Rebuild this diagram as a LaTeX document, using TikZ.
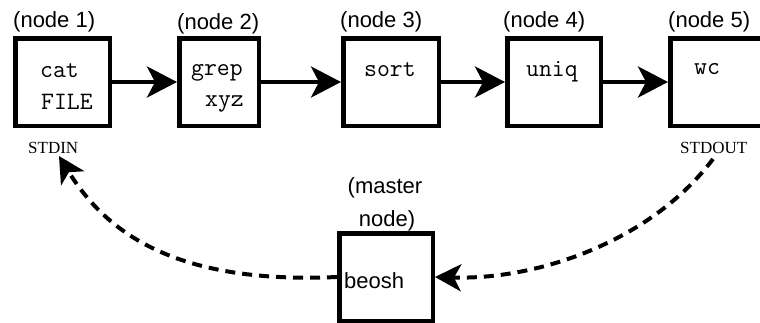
\documentclass[tikz,border=0pt]{standalone}
\usepackage{fontspec}
\usetikzlibrary{arrows.meta}
\newfontfamily\hvfont{Liberation Sans}
\newfontfamily\tmsfont{Liberation Serif}
\begin{document}
\begin{tikzpicture}[x=1pt,y=-1pt,
  box/.style={draw, line width=4.5pt, rectangle, inner sep=0pt,
    minimum height=87.5pt},
  tag/.style={anchor=base west, inner sep=0pt,
    font=\hvfont\fontsize{22}{26}\selectfont},
  cmd/.style={anchor=base west, inner sep=0pt,
    font=\ttfamily\fontsize{25}{28}\selectfont},
  port/.style={anchor=base west, inner sep=0pt,
    font=\tmsfont\fontsize{17}{20}\selectfont},
  pipe/.style={line width=4pt,
    -{Stealth[length=30pt,width=31pt,inset=8pt]}},
  back/.style={line width=4pt, dash pattern=on 10pt off 7pt,
    -{Stealth[length=26pt,width=27pt,inset=7pt]}}
]
\useasboundingbox (0,0) rectangle (760,322);

% pipeline stages
\node[box, minimum width=94.5pt] (b1) at (62.5,82) {};
\node[box, minimum width=79.5pt] (b2) at (219,82) {};
\node[box, minimum width=95.5pt] (b3) at (391,82) {};
\node[box, minimum width=93.5pt] (b4) at (554,82) {};
\node[box, minimum width=93.5pt] (b5) at (717,82) {};
\node[box, minimum width=93.5pt] (master) at (386,277) {};

% stage captions
\node[tag] (l1) at (13,27) {(node 1)};
\node[tag] (l2) at (177,29.5) {(node 2)};
\node[tag] (l3) at (340,27) {(node 3)};
\node[tag] (l4) at (503,27) {(node 4)};
\node[tag] (l5) at (668,27) {(node 5)};
\node[tag, anchor=base] (lm1) at (385,193) {(master};
\node[tag, anchor=base] (lm2) at (387,226) {node)};

% commands
\node[cmd] (c1a) at (40,77) {cat};
\node[cmd] (c1b) at (41,109) {FILE};
\node[cmd] (c2a) at (191,75) {grep};
\node[cmd] (c2b) at (205,106) {xyz};
\node[cmd] (c3) at (364,76) {sort};
\node[cmd] (c4) at (526,76) {uniq};
\node[cmd] (c5) at (694,74) {wc};
\node[tag] (cm) at (344,288) {beosh};

% standard streams
\node[port] (stdin) at (28,153.5) {STDIN};
\node[port] (stdout) at (680,153.5) {STDOUT};
\coordinate (inport) at (59,156);
\coordinate (outport) at (713,159);

% data flow
\draw[pipe] (b1) -- (b2);
\draw[pipe] (b2) -- (b3);
\draw[pipe] (b3) -- (b4);
\draw[pipe] (b4) -- (b5);

% results returned through the master node
\draw[back] (outport) .. controls (652,240) and (540,280) .. (master.east);
\draw[back] (master.west) .. controls (180,284) and (108,236) .. (inport);
\end{tikzpicture}
\end{document}
